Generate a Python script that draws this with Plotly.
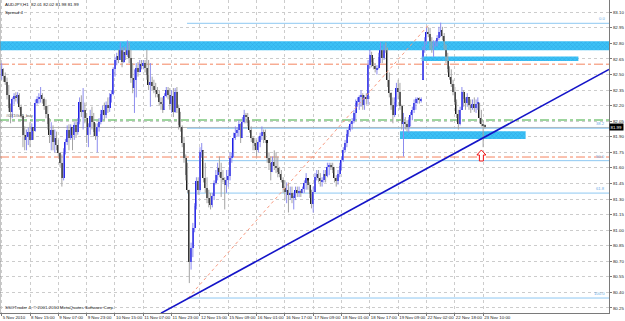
import plotly.graph_objects as go

# ---------------- data ----------------
TITLE_TEXT = "AUDJPY,H1  82.01 82.02 81.98 81.99"
SPREAD_TEXT = "Spread 4"
COPYRIGHT_TEXT = "SSOTrader 4, \u00a9 2001-2010 MetaQuotes Software Corp."
GREEN_LABEL = "#0X1G40_buy"

time_tick_bars = [0, 16, 32, 48, 64, 80, 96, 112, 128, 144, 160, 176, 192, 208, 224, 240, 256, 272]
time_tick_labels = ["5 Nov 2010", "8 Nov 15:00", "9 Nov 07:00", "9 Nov 23:00", "10 Nov 15:00",
                    "11 Nov 07:00", "11 Nov 23:00", "12 Nov 15:00", "15 Nov 09:00", "16 Nov 01:00",
                    "16 Nov 17:00", "17 Nov 09:00", "18 Nov 01:00", "18 Nov 17:00", "19 Nov 09:00",
                    "22 Nov 02:00", "22 Nov 18:00", "23 Nov 10:00"]

price_ticks = [80.25, 80.40, 80.55, 80.70, 80.85, 81.00, 81.15, 81.30, 81.45, 81.60,
               81.75, 81.90, 82.05, 82.20, 82.35, 82.50, 82.65, 82.80, 82.95, 83.10]

opens = [
    82.49, 82.55, 82.49, 82.43, 82.30, 82.18, 82.14, 82.26, 82.29, 82.28,
    82.30, 82.19, 82.10, 81.92, 81.87, 81.90, 81.95, 81.87, 81.99, 81.96,
    82.23, 82.26, 82.28, 82.30, 82.26, 82.20, 82.12, 82.02, 81.92, 81.97,
    81.85, 81.89, 81.82, 81.74, 81.65, 81.50, 81.75, 81.85, 81.97, 81.89,
    81.99, 81.92, 82.01, 81.95, 82.04, 82.24, 82.14, 82.16, 82.08, 81.92,
    81.99, 82.10, 82.04, 81.95, 81.91, 81.99, 82.04, 82.12, 82.16, 82.11,
    82.21, 82.18, 82.28, 82.31, 82.55, 82.64, 82.68, 82.64, 82.76, 82.62,
    82.72, 82.69, 82.79, 82.66, 82.47, 82.37, 82.45, 82.56, 82.52, 82.60,
    82.58, 82.61, 82.56, 82.50, 82.40, 82.43, 82.39, 82.35, 82.33, 82.31,
    82.24, 82.22, 82.16, 82.29, 82.35, 82.30, 82.22, 82.29, 82.14, 82.33,
    82.18, 82.01, 81.99, 81.84, 81.70, 81.53, 81.39, 80.69, 80.83, 81.02,
    81.23, 81.47, 81.39, 81.75, 81.77, 81.50, 81.41, 81.31, 81.26, 81.24,
    81.33, 81.45, 81.53, 81.60, 81.56, 81.50, 81.48, 81.44, 81.48, 81.52,
    81.70, 81.71, 81.89, 81.94, 81.97, 82.02, 81.89, 82.04, 82.11, 82.09,
    82.03, 81.97, 81.89, 81.84, 81.81, 81.77, 81.85, 81.91, 81.95, 81.93,
    81.87, 81.70, 81.65, 81.56, 81.66, 81.62, 81.60, 81.56, 81.54, 81.48,
    81.41, 81.37, 81.39, 81.34, 81.36, 81.31, 81.33, 81.39, 81.36, 81.38,
    81.36, 81.40, 81.45, 81.50, 81.44, 81.35, 81.25, 81.37, 81.51, 81.54,
    81.50, 81.47, 81.48, 81.54, 81.52, 81.61, 81.62, 81.61, 81.58, 81.50,
    81.47, 81.54, 81.62, 81.68, 81.77, 81.84, 81.93, 81.97, 82.02, 82.05,
    82.13, 82.23, 82.24, 82.28, 82.30, 82.21, 82.28, 82.26, 82.59, 82.69,
    82.62, 82.58, 82.55, 82.56, 82.67, 82.74, 82.66, 82.75, 82.74, 82.45,
    82.32, 82.21, 82.11, 82.24, 82.37, 82.33, 82.20, 82.02, 82.04, 82.02,
    81.99, 82.06, 82.11, 82.16, 82.23, 82.26, 82.27, 82.25, 82.45, 82.74,
    82.82, 82.91, 82.89, 82.80, 82.76, 82.79, 82.81, 82.85, 82.91, 82.93,
    82.87, 82.78, 82.64, 82.55, 82.48, 82.41, 82.33, 82.24, 82.12, 82.02,
    82.16, 82.33, 82.26, 82.23, 82.28, 82.21, 82.18, 82.22, 82.18, 82.22,
    82.23, 82.08, 82.02, 82.01,
]

closes = [
    82.55, 82.49, 82.43, 82.30, 82.18, 82.14, 82.26, 82.29, 82.28, 82.30,
    82.19, 82.10, 81.92, 81.87, 81.90, 81.95, 81.87, 81.99, 81.96, 82.23,
    82.26, 82.28, 82.30, 82.26, 82.20, 82.12, 82.02, 81.92, 81.97, 81.85,
    81.89, 81.82, 81.74, 81.65, 81.50, 81.75, 81.85, 81.97, 81.89, 81.99,
    81.92, 82.01, 81.95, 82.04, 82.24, 82.14, 82.16, 82.08, 81.92, 81.99,
    82.10, 82.04, 81.95, 81.91, 81.99, 82.04, 82.12, 82.16, 82.11, 82.21,
    82.18, 82.28, 82.31, 82.55, 82.64, 82.68, 82.64, 82.76, 82.62, 82.72,
    82.69, 82.79, 82.66, 82.47, 82.37, 82.45, 82.56, 82.52, 82.60, 82.58,
    82.61, 82.56, 82.50, 82.40, 82.43, 82.39, 82.35, 82.33, 82.31, 82.24,
    82.22, 82.16, 82.29, 82.35, 82.30, 82.22, 82.29, 82.14, 82.33, 82.18,
    82.01, 81.99, 81.84, 81.70, 81.53, 81.39, 80.69, 80.83, 81.02, 81.23,
    81.47, 81.39, 81.75, 81.77, 81.50, 81.41, 81.31, 81.26, 81.24, 81.33,
    81.45, 81.53, 81.60, 81.56, 81.50, 81.48, 81.44, 81.48, 81.52, 81.70,
    81.71, 81.89, 81.94, 81.97, 82.02, 81.89, 82.04, 82.11, 82.09, 82.03,
    81.97, 81.89, 81.84, 81.81, 81.77, 81.85, 81.91, 81.95, 81.93, 81.87,
    81.70, 81.65, 81.56, 81.66, 81.62, 81.60, 81.56, 81.54, 81.48, 81.41,
    81.37, 81.39, 81.34, 81.36, 81.31, 81.33, 81.39, 81.36, 81.38, 81.36,
    81.40, 81.45, 81.50, 81.44, 81.35, 81.25, 81.37, 81.51, 81.54, 81.50,
    81.47, 81.48, 81.54, 81.52, 81.61, 81.62, 81.61, 81.58, 81.50, 81.47,
    81.54, 81.62, 81.68, 81.77, 81.84, 81.93, 81.97, 82.02, 82.05, 82.13,
    82.23, 82.24, 82.28, 82.30, 82.21, 82.28, 82.26, 82.59, 82.69, 82.62,
    82.58, 82.55, 82.56, 82.67, 82.74, 82.66, 82.75, 82.74, 82.45, 82.32,
    82.21, 82.11, 82.24, 82.37, 82.33, 82.20, 82.02, 82.04, 82.02, 81.99,
    82.06, 82.11, 82.16, 82.23, 82.26, 82.27, 82.25, 82.26, 82.74, 82.82,
    82.91, 82.89, 82.80, 82.76, 82.79, 82.81, 82.85, 82.91, 82.93, 82.87,
    82.78, 82.64, 82.55, 82.48, 82.41, 82.33, 82.24, 82.12, 82.02, 82.16,
    82.33, 82.26, 82.23, 82.28, 82.21, 82.18, 82.22, 82.18, 82.22, 82.23,
    82.08, 82.02, 82.01, 81.99,
]

highs = [
    82.61, 82.56, 82.52, 82.47, 82.40, 82.22, 82.28, 82.32, 82.33, 82.33,
    82.32, 82.21, 82.12, 82.00, 81.97, 81.99, 82.04, 82.03, 81.99, 82.26,
    82.29, 82.32, 82.38, 82.32, 82.28, 82.26, 82.20, 82.08, 82.04, 82.01,
    81.97, 81.95, 81.87, 81.75, 81.73, 81.79, 81.88, 82.01, 82.02, 82.02,
    81.99, 82.04, 82.06, 82.08, 82.28, 82.30, 82.37, 82.23, 82.13, 82.03,
    82.16, 82.19, 82.13, 82.03, 82.03, 82.08, 82.16, 82.20, 82.23, 82.24,
    82.28, 82.32, 82.35, 82.57, 82.67, 82.71, 82.74, 82.81, 82.76, 82.77,
    82.76, 82.83, 82.81, 82.74, 82.61, 82.55, 82.61, 82.62, 82.64, 82.64,
    82.64, 82.64, 82.74, 82.64, 82.61, 82.48, 82.45, 82.42, 82.38, 82.35,
    82.28, 82.28, 82.32, 82.38, 82.38, 82.37, 82.35, 82.37, 82.37, 82.38,
    82.21, 82.14, 82.01, 81.90, 81.73, 81.65, 81.39, 80.88, 81.07, 81.26,
    81.51, 81.51, 81.80, 81.84, 81.77, 81.65, 81.51, 81.39, 81.36, 81.36,
    81.48, 81.58, 81.65, 81.71, 81.65, 81.58, 81.51, 81.58, 81.58, 81.75,
    81.75, 81.94, 82.00, 81.99, 82.06, 82.03, 82.09, 82.16, 82.13, 82.13,
    82.06, 82.00, 81.90, 81.89, 81.87, 81.90, 81.94, 82.00, 81.97, 81.97,
    81.84, 81.75, 81.71, 81.71, 81.77, 81.75, 81.71, 81.61, 81.58, 81.51,
    81.48, 81.46, 81.46, 81.42, 81.42, 81.36, 81.42, 81.42, 81.42, 81.39,
    81.42, 81.48, 81.55, 81.48, 81.46, 81.39, 81.42, 81.55, 81.58, 81.58,
    81.55, 81.51, 81.58, 81.58, 81.65, 81.65, 81.65, 81.65, 81.61, 81.53,
    81.58, 81.65, 81.71, 81.80, 81.87, 81.97, 82.00, 82.04, 82.08, 82.16,
    82.26, 82.28, 82.30, 82.35, 82.32, 82.30, 82.32, 82.64, 82.74, 82.72,
    82.66, 82.61, 82.59, 82.71, 82.81, 82.74, 82.79, 82.81, 82.76, 82.52,
    82.33, 82.28, 82.28, 82.42, 82.45, 82.42, 82.21, 82.13, 82.09, 82.06,
    82.09, 82.14, 82.19, 82.26, 82.28, 82.28, 82.28, 82.28, 82.77, 82.86,
    82.96, 82.95, 82.95, 82.86, 82.83, 82.83, 82.88, 82.96, 83.00, 82.96,
    82.90, 82.79, 82.71, 82.58, 82.55, 82.45, 82.38, 82.26, 82.16, 82.19,
    82.38, 82.35, 82.28, 82.32, 82.28, 82.26, 82.26, 82.28, 82.26, 82.28,
    82.23, 82.16, 82.06, 82.02,
]

lows = [
    82.45, 82.43, 82.40, 82.26, 82.14, 82.03, 82.08, 82.21, 82.24, 82.22,
    82.16, 82.08, 81.80, 81.77, 81.77, 81.82, 81.80, 81.87, 81.87, 81.95,
    82.21, 82.22, 82.23, 82.22, 82.16, 82.08, 81.97, 81.84, 81.77, 81.77,
    81.75, 81.77, 81.71, 81.61, 81.42, 81.48, 81.73, 81.82, 81.77, 81.87,
    81.77, 81.87, 81.89, 81.92, 82.02, 82.09, 81.97, 82.03, 81.84, 81.80,
    81.92, 81.97, 81.90, 81.87, 81.75, 81.95, 82.02, 82.06, 82.06, 82.08,
    82.13, 82.14, 82.23, 82.30, 82.48, 82.59, 82.61, 82.64, 82.57, 82.61,
    82.64, 82.67, 82.61, 82.42, 82.32, 82.13, 82.28, 82.48, 82.52, 82.55,
    82.55, 82.52, 82.45, 82.35, 82.19, 82.35, 82.32, 82.28, 82.28, 82.20,
    82.16, 82.13, 82.16, 82.28, 82.26, 82.16, 82.13, 82.09, 82.13, 82.13,
    81.97, 81.95, 81.80, 81.65, 81.48, 81.36, 80.49, 80.62, 80.74, 80.98,
    81.20, 81.34, 81.37, 81.70, 81.46, 81.36, 81.26, 81.22, 81.20, 81.22,
    81.29, 81.44, 81.48, 81.51, 81.32, 81.46, 81.20, 81.36, 81.42, 81.48,
    81.65, 81.70, 81.87, 81.90, 81.90, 81.84, 81.89, 82.03, 82.03, 82.00,
    81.94, 81.85, 81.77, 81.77, 81.71, 81.75, 81.80, 81.87, 81.84, 81.84,
    81.65, 81.58, 81.48, 81.56, 81.58, 81.55, 81.51, 81.51, 81.46, 81.36,
    81.29, 81.26, 81.17, 81.29, 81.26, 81.20, 81.29, 81.32, 81.32, 81.32,
    81.36, 81.36, 81.39, 81.39, 81.31, 81.21, 81.17, 81.37, 81.48, 81.46,
    81.42, 81.42, 81.46, 81.46, 81.51, 81.53, 81.58, 81.55, 81.46, 81.42,
    81.44, 81.51, 81.58, 81.66, 81.75, 81.80, 81.90, 81.95, 81.97, 82.03,
    82.06, 82.19, 82.16, 82.19, 82.16, 82.16, 82.21, 82.21, 82.56, 82.57,
    82.55, 82.52, 82.50, 82.55, 82.61, 82.61, 82.64, 82.71, 82.38, 82.28,
    82.16, 82.03, 82.09, 82.19, 82.26, 82.16, 81.97, 81.71, 81.97, 81.95,
    81.94, 82.00, 82.06, 82.13, 82.16, 82.22, 82.22, 82.23, 82.45, 82.71,
    82.79, 82.86, 82.74, 82.71, 82.67, 82.77, 82.77, 82.83, 82.86, 82.83,
    82.74, 82.61, 82.52, 82.45, 82.38, 82.30, 82.21, 82.08, 81.97, 82.01,
    82.16, 82.19, 82.16, 82.19, 82.16, 82.13, 82.16, 82.14, 82.13, 82.16,
    82.03, 82.00, 81.80, 81.98,
]

# chart objects (bar index / price)
view_bars = [-0.96, 343.1]
view_prices = [80.2017, 83.2186]

zone_bars = [[-0.96, 343.1], [237.3, 325.8], [225.0, 296.0]]
zone_prices = [[82.735, 82.82], [82.63, 82.673], [81.88, 81.953]]

fib_start_bar = 104.7
fib_low_bar, fib_low = 105.3, 80.346
fib_high_bar, fib_high = 242.0, 82.994
fib_ratios = [0.0, 0.382, 0.5, 0.618, 1.0]
fib_texts = ["0.0", "38.2", "50.0", "61.8", "100.0"]

orange_levels = [82.60, 81.705]
green_level = 82.062

trend_bars = [90.0, 343.1]
trend_prices = [80.20, 82.55]

arrow_bar, arrow_price = 271.0, 81.773

# ---------------- figure ----------------
FONT = "Liberation Sans"
fig = go.Figure()

# hatched zones (behind candles)
for (xb0, xb1), (p0, p1) in zip(zone_bars, zone_prices):
    fig.add_trace(go.Scatter(
        x=[xb0, xb1, xb1, xb0, xb0], y=[p0, p0, p1, p1, p0],
        mode="lines", fill="toself", line=dict(width=0),
        fillcolor="#2CB4EE",
        fillpattern=dict(shape="x", bgcolor="#3CC2F6", fgcolor="#1A86CC", size=3, solidity=0.3),
        hoverinfo="skip"))

n = len(closes)
idx = list(range(n))
bull = [c >= o for o, c in zip(opens, closes)]

wx_u, wy_u, wx_d, wy_d = [], [], [], []
for i in idx:
    if bull[i]:
        wx_u += [i, i, None]
        wy_u += [lows[i], highs[i], None]
    else:
        wx_d += [i, i, None]
        wy_d += [lows[i], highs[i], None]

fig.add_trace(go.Scatter(x=wx_u, y=wy_u, mode="lines",
                         line=dict(color="#8C8CEE", width=1), hoverinfo="skip"))
fig.add_trace(go.Scatter(x=wx_d, y=wy_d, mode="lines",
                         line=dict(color="#A4A4A4", width=1), hoverinfo="skip"))

body_base = [min(o, c) for o, c in zip(opens, closes)]
body_len = [max(abs(c - o), 0.006) for o, c in zip(opens, closes)]
body_col = ["#1E1EE6" if b else "#1E1E1E" for b in bull]
fig.add_trace(go.Bar(x=idx, y=body_len, base=body_base, width=0.72,
                     marker=dict(color=body_col, line=dict(width=0)), hoverinfo="skip"))

shapes = []
# horizontal lines
for lv in orange_levels:
    shapes.append(dict(type="line", xref="x", yref="y", x0=view_bars[0], x1=view_bars[1], y0=lv, y1=lv,
                       line=dict(color="#F4845F", width=1, dash="dashdot"), layer="between"))
shapes.append(dict(type="line", xref="x", yref="y", x0=view_bars[0], x1=view_bars[1], y0=green_level, y1=green_level,
                   line=dict(color="#3DAA3D", width=1, dash="dashdot"), layer="between"))
last_price = closes[-1]
shapes.append(dict(type="line", xref="x", yref="y", x0=view_bars[0], x1=view_bars[1], y0=last_price, y1=last_price,
                   line=dict(color="#B4B4B4", width=1), layer="between"))
# fibonacci levels
fib_levels = [fib_high - r * (fib_high - fib_low) for r in fib_ratios]
for lv in fib_levels:
    shapes.append(dict(type="line", xref="x", yref="y", x0=fib_start_bar, x1=view_bars[1], y0=lv, y1=lv,
                       line=dict(color="#8EC8F2", width=1), layer="between"))
shapes.append(dict(type="line", xref="x", yref="y", x0=fib_low_bar, y0=fib_low, x1=fib_high_bar, y1=fib_high,
                   line=dict(color="#F89A80", width=1, dash="dot"), layer="above"))
# trend line
shapes.append(dict(type="line", xref="x", yref="y", x0=trend_bars[0], y0=trend_prices[0],
                   x1=trend_bars[1], y1=trend_prices[1],
                   line=dict(color="#1414C8", width=1.6), layer="above"))
# red arrow
shapes.append(dict(type="path", xref="x", yref="y", xsizemode="pixel", ysizemode="pixel",
                   xanchor=arrow_bar, yanchor=arrow_price,
                   path="M 0,0 L 4.5,-5 L 2,-5 L 2,-11 L -2,-11 L -2,-5 L -4.5,-5 Z",
                   line=dict(color="#F01010", width=1), fillcolor="white", layer="above"))
# left border
shapes.append(dict(type="line", xref="paper", yref="paper", x0=0, x1=0, y0=0, y1=1,
                   line=dict(color="#8A8A8A", width=1)))

annotations = [
    dict(text=TITLE_TEXT, xref="paper", yref="paper", x=3 / 609, y=1 - 5 / 313,
         xanchor="left", yanchor="middle", showarrow=False, font=dict(family=FONT, size=4.4, color="#111")),
    dict(text=SPREAD_TEXT, xref="paper", yref="paper", x=3 / 609, y=1 - 12 / 313,
         xanchor="left", yanchor="middle", showarrow=False, font=dict(family=FONT, size=4.4, color="#111")),
    dict(text=COPYRIGHT_TEXT, xref="paper", yref="paper", x=3 / 609, y=1 - 307 / 313,
         xanchor="left", yanchor="middle", showarrow=False, font=dict(family=FONT, size=4.4, color="#222")),
    dict(text=GREEN_LABEL, xref="paper", yref="y", x=4 / 609, y=green_level,
         xanchor="left", yanchor="bottom", showarrow=False, font=dict(family=FONT, size=4.2, color="#555")),
    dict(text=f"{last_price:.2f}", xref="paper", yref="y", x=1, y=last_price,
         xanchor="left", yanchor="middle", showarrow=False, bgcolor="black", borderpad=0.5,
         font=dict(family=FONT, size=4.4, color="white")),
]
for lv, t in zip(fib_levels, fib_texts):
    annotations.append(dict(text=t, xref="paper", yref="y", x=607 / 609, y=lv, xanchor="right", yanchor="bottom",
                            showarrow=False, font=dict(family=FONT, size=4.2, color="#6AAEE8")))

fig.update_layout(
    width=625, height=321,
    margin=dict(l=0, r=16, t=0, b=8),
    paper_bgcolor="white", plot_bgcolor="white",
    showlegend=False, bargap=0,
    shapes=shapes, annotations=annotations,
    xaxis=dict(range=view_bars, tickmode="array", tickvals=time_tick_bars, ticktext=time_tick_labels,
               ticklabelposition="outside right", tickangle=0,
               tickfont=dict(family=FONT, size=4.4, color="#222"),
               ticklabelstandoff=0,
               showgrid=True, gridcolor="#CCCCCC", griddash="dot", gridwidth=1,
               showline=True, linecolor="#7A7A7A", linewidth=1, ticks="outside", ticklen=2,
               tickcolor="#7A7A7A", zeroline=False, automargin=False, fixedrange=True),
    yaxis=dict(range=view_prices, side="right", tickmode="array", tickvals=price_ticks,
               ticktext=[f"{v:.2f}" for v in price_ticks], tickfont=dict(family=FONT, size=4.4, color="#222"),
               showgrid=True, gridcolor="#CCCCCC", griddash="dot", gridwidth=1,
               showline=True, linecolor="#7A7A7A", linewidth=1, ticks="outside", ticklen=2,
               tickcolor="#7A7A7A", zeroline=False, automargin=False, fixedrange=True),
)

fig.write_html("out.html")
